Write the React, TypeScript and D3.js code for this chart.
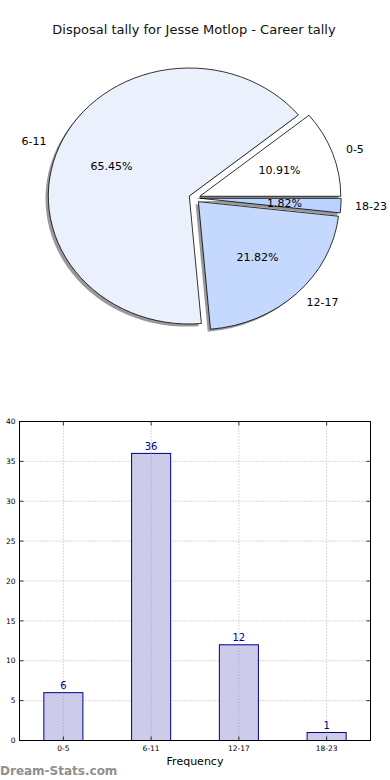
import React from 'react';
import * as d3 from 'd3';

// career disposal tallies per bucket
const categories = ['0-5', '6-11', '12-17', '18-23'];
const counts = [6, 36, 12, 1];
const sliceColors = ['#ffffff', '#eaf1fd', '#c5d9ff', '#b8d3ff'];
const yTicks = [0, 5, 10, 15, 20, 25, 30, 35, 40];

const W = 390;
const H = 780;
const FONT = '"DejaVu Sans", sans-serif';

const Pie = () => {
  const cx = 194.5;
  const cy = 198;
  const rx = 141;
  const ry = 128;
  const explode = 0.04;
  const total = d3.sum(counts);

  // matplotlib style: start at 3 o'clock and go counter-clockwise
  const pie = d3
    .pie<number>()
    .sort(null)
    .startAngle(Math.PI / 2)
    .endAngle(Math.PI / 2 - 2 * Math.PI);
  const arcs = pie(counts);
  const arc = d3.arc<d3.PieArcDatum<number>>().innerRadius(0).outerRadius(rx);

  const pos = (a: number, r: number) => [Math.sin(a) * rx * r, -Math.cos(a) * ry * r];

  return (
    <g>
      <text x={194} y={34} textAnchor="middle" fontSize={13} fontFamily={FONT} fill="#111">
        Disposal tally for Jesse Motlop - Career tally
      </text>
      {arcs.map((d, i) => {
        const mid = (d.startAngle + d.endAngle) / 2;
        const [ox, oy] = pos(mid, explode);
        const path = arc(d) || '';
        return (
          <g key={i}>
            <g transform={`translate(${cx + ox - 2.8},${cy + oy + 2.6}) scale(1,${ry / rx})`}>
              <path d={path} fill="#000" opacity={0.4} stroke="none" />
            </g>
            <g transform={`translate(${cx + ox},${cy + oy}) scale(1,${ry / rx})`}>
              <path
                d={path}
                fill={sliceColors[i]}
                stroke="#000"
                strokeWidth={0.8}
                vectorEffect="non-scaling-stroke"
              />
            </g>
          </g>
        );
      })}
      {arcs.map((d, i) => {
        const mid = (d.startAngle + d.endAngle) / 2;
        const [lx, ly] = pos(mid, explode + 1.1);
        const [px, py] = pos(mid, explode + 0.6);
        return (
          <g key={'t' + i} fontFamily={FONT} fontSize={11} fill="#000">
            <text
              x={cx + lx}
              y={cy + ly}
              dy="0.35em"
              textAnchor={Math.sin(mid) < 0 ? 'end' : 'start'}
            >
              {categories[i]}
            </text>
            <text x={cx + px} y={cy + py} dy="0.35em" textAnchor="middle">
              {((counts[i] / total) * 100).toFixed(2)}%
            </text>
          </g>
        );
      })}
    </g>
  );
};

const Bars = () => {
  const left = 19.5;
  const right = 370.5;
  const top = 421.5;
  const bottom = 740.5;

  const x = d3.scalePoint<string>().domain(categories).range([left, right]).padding(0.5);
  const y = d3.scaleLinear().domain([0, 40]).range([bottom, top]);
  const barW = x.step() * 0.445;

  return (
    <g fontFamily={FONT}>
      {yTicks.map((t) => (
        <g key={'gy' + t}>
          <line x1={left} x2={right} y1={y(t)} y2={y(t)} stroke="#a0a0a0" strokeWidth={0.8} strokeDasharray="1,2" />
          <line x1={left} x2={left + 4} y1={y(t)} y2={y(t)} stroke="#000" strokeWidth={0.8} />
          <line x1={right - 4} x2={right} y1={y(t)} y2={y(t)} stroke="#000" strokeWidth={0.8} />
          <text x={left - 4} y={y(t)} dy="0.35em" textAnchor="end" fontSize={7.5} fill="#000">
            {t}
          </text>
        </g>
      ))}
      {categories.map((c) => (
        <line
          key={'gx' + c}
          x1={x(c)}
          x2={x(c)}
          y1={top}
          y2={bottom}
          stroke="#a0a0a0"
          strokeWidth={0.8}
          strokeDasharray="1,2"
        />
      ))}
      {categories.map((c, i) => (
        <g key={'b' + c}>
          <rect
            x={(x(c) as number) - barW / 2}
            y={y(counts[i])}
            width={barW}
            height={bottom - y(counts[i])}
            fill="#ccccea"
            stroke="#000080"
            strokeWidth={1}
          />
          <line x1={x(c)} x2={x(c)} y1={y(counts[i])} y2={bottom} stroke="#9a9ab8" strokeWidth={0.8} strokeDasharray="1,2" />
          <text x={x(c)} y={y(counts[i]) - 3.5} textAnchor="middle" fontSize={10} fill="#00008b">
            {counts[i]}
          </text>
          <line x1={x(c)} x2={x(c)} y1={bottom} y2={bottom - 4} stroke="#000" strokeWidth={0.8} />
          <line x1={x(c)} x2={x(c)} y1={top} y2={top + 4} stroke="#000" strokeWidth={0.8} />
          <text x={x(c)} y={bottom + 10} textAnchor="middle" fontSize={7.5} fill="#000">
            {c}
          </text>
        </g>
      ))}
      <rect x={left} y={top} width={right - left} height={bottom - top} fill="none" stroke="#000" strokeWidth={1} />
      <text x={(left + right) / 2} y={765} textAnchor="middle" fontSize={11} fill="#000">
        Frequency
      </text>
      <text x={0} y={775} fontSize={12} fontWeight="600" fill="#8f8f8f">
        Dream-Stats.com
      </text>
    </g>
  );
};

export default function App() {
  return (
    <svg
      width={W}
      height={H}
      viewBox={`0 0 ${W} ${H}`}
      style={{ position: 'absolute', left: 0, top: 0, background: '#fff' }}
    >
      <Pie />
      <Bars />
    </svg>
  );
}
